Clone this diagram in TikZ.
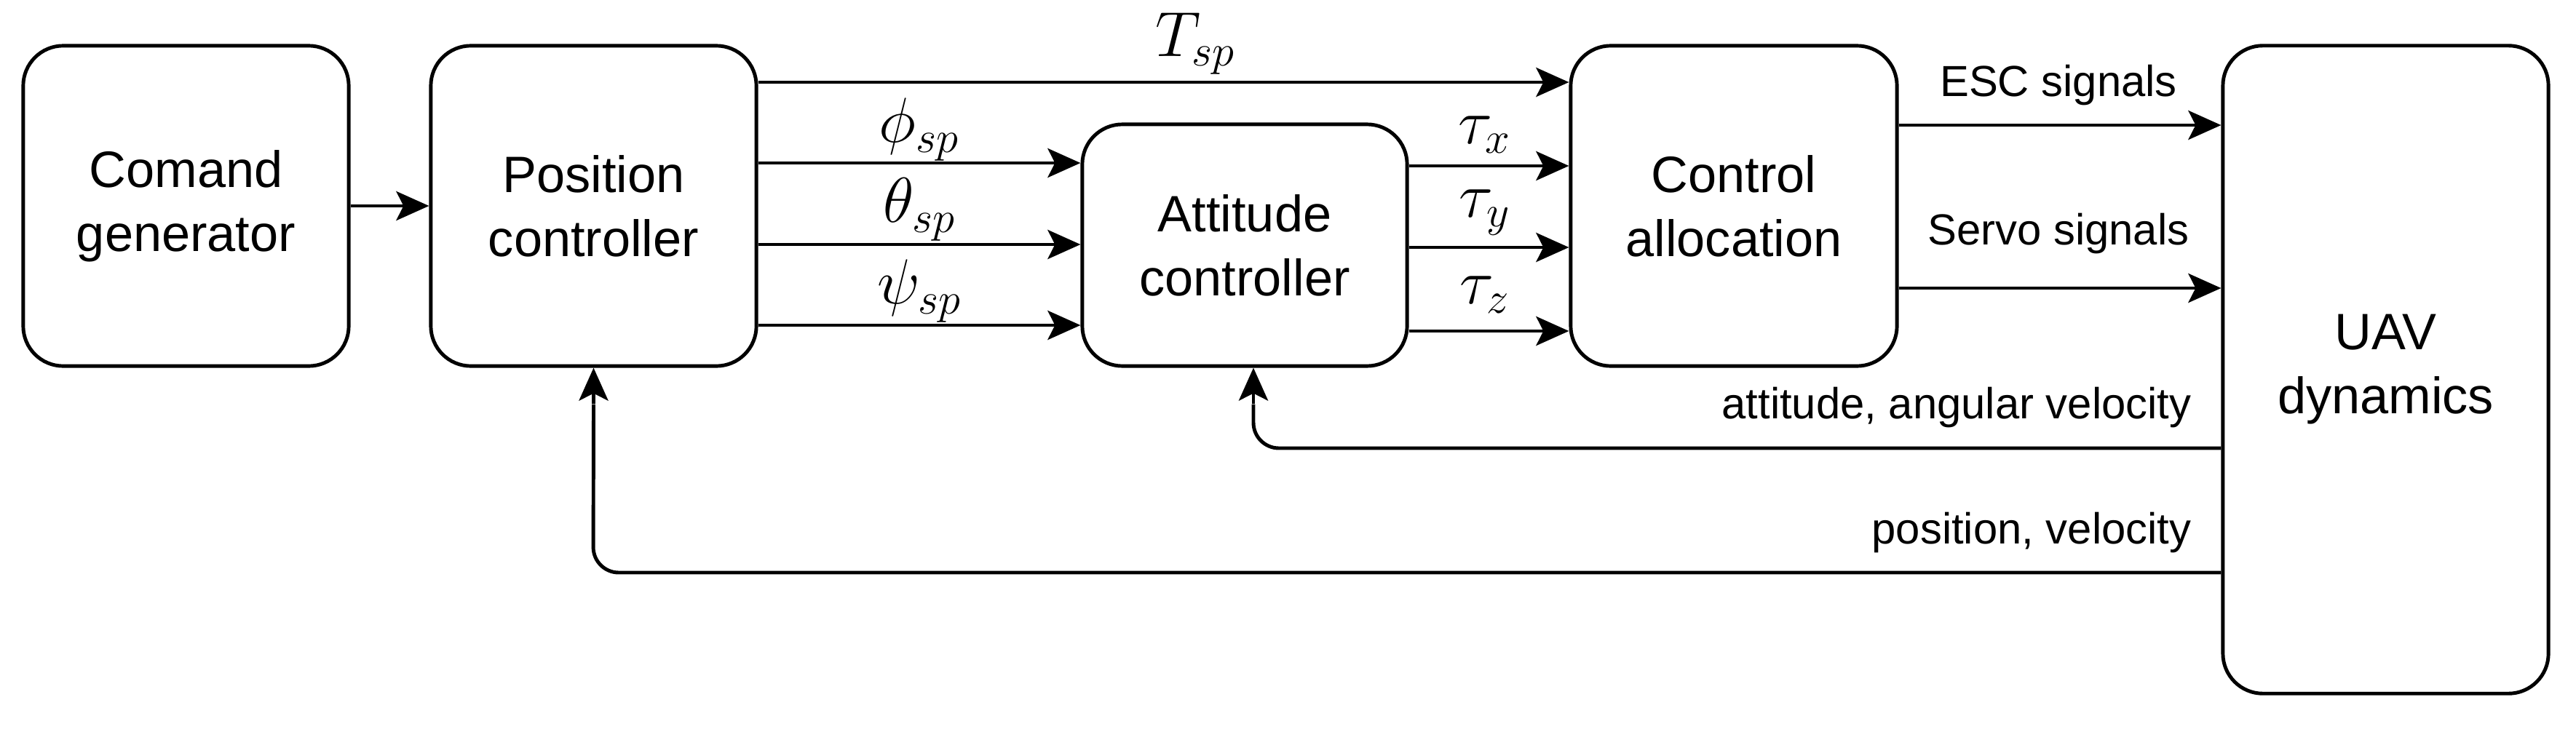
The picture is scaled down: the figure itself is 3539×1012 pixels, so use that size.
\documentclass[tikz,border=0pt]{standalone}
\usepackage{fontspec}
\setmainfont{Liberation Sans}
\usetikzlibrary{arrows.meta}
\begin{document}
\begin{tikzpicture}[x=0.01cm,y=-0.01cm,
  blk/.style={draw,line width=1.4pt,rounded corners=0.55cm,align=center,font=\fontsize{20}{25}\selectfont,inner sep=0pt},
  con/.style={line width=1.4pt,-{Stealth[length=0.45cm,width=0.4cm,inset=0.1cm]}},
  lnk/.style={line width=1.4pt,rounded corners=0.35cm},
  lab/.style={font=\fontsize{17}{20}\selectfont,inner sep=0pt},
  mlab/.style={font=\fontsize{23}{26}\selectfont,inner sep=0pt}]
\useasboundingbox (0,0) rectangle (3539,1012);
\node[blk,minimum width=4.47cm,minimum height=4.4cm] (cmd) at (255.5,283) {Comand\\generator};
\node[blk,minimum width=4.47cm,minimum height=4.4cm] (pos) at (815.5,283) {Position\\controller};
\node[blk,minimum width=4.46cm,minimum height=3.32cm] (att) at (1710,337) {Attitude\\controller};
\node[blk,minimum width=4.48cm,minimum height=4.4cm] (ctl) at (2382,283) {Control\\allocation};
\node[blk,minimum width=4.47cm,minimum height=8.9cm] (uav) at (3277.5,508) {UAV\\dynamics};
\coordinate (yC) at (0,283);
\coordinate (yT) at (0,113);
\coordinate (y1) at (0,224);
\coordinate (y2) at (0,336);
\coordinate (y3) at (0,447);
\coordinate (t1) at (0,228);
\coordinate (t2) at (0,340);
\coordinate (t3) at (0,455);
\coordinate (yE) at (0,172);
\coordinate (yS) at (0,396);
\coordinate (fa) at (1722,616);
\coordinate (fp) at (815,787);
\draw[con] (cmd.east |- yC) -- (pos.west |- yC);
\draw[con] (pos.east |- yT) -- (ctl.west |- yT);
\draw[con] (pos.east |- y1) -- (att.west |- y1);
\draw[con] (pos.east |- y2) -- (att.west |- y2);
\draw[con] (pos.east |- y3) -- (att.west |- y3);
\draw[con] (att.east |- t1) -- (ctl.west |- t1);
\draw[con] (att.east |- t2) -- (ctl.west |- t2);
\draw[con] (att.east |- t3) -- (ctl.west |- t3);
\draw[con] (ctl.east |- yE) -- (uav.west |- yE);
\draw[con] (ctl.east |- yS) -- (uav.west |- yS);
\draw[lnk] (uav.west |- fa) -- (fa) -- ([xshift=0.12cm,yshift=-0.5cm]att.south);
\draw[con] ([xshift=0.12cm,yshift=-0.49cm]att.south) -- ([xshift=0.12cm]att.south);
\draw[lnk] (uav.west |- fp) -- (fp) -- ([yshift=-0.5cm]pos.south);
\draw[con] ([yshift=-0.49cm]pos.south) -- (pos.south);
\node[mlab] (lT) at (1642,60) {$T_{sp}$};
\node[mlab] (l1) at (1263,178) {$\phi_{sp}$};
\node[mlab] (l2) at (1263,288) {$\theta_{sp}$};
\node[mlab] (l3) at (1263,400) {$\psi_{sp}$};
\node[mlab] (lx) at (2040,185) {$\tau_{x}$};
\node[mlab] (ly) at (2040,292) {$\tau_{y}$};
\node[mlab] (lz) at (2040,405) {$\tau_{z}$};
\node[lab] (lE) at (2828,117) {ESC signals};
\node[lab] (lS) at (2828,321) {Servo signals};
\node[lab,anchor=east] (lA) at (3011,560) {attitude, angular velocity};
\node[lab,anchor=east] (lP) at (3011,732) {position, velocity};
\end{tikzpicture}
\end{document}
